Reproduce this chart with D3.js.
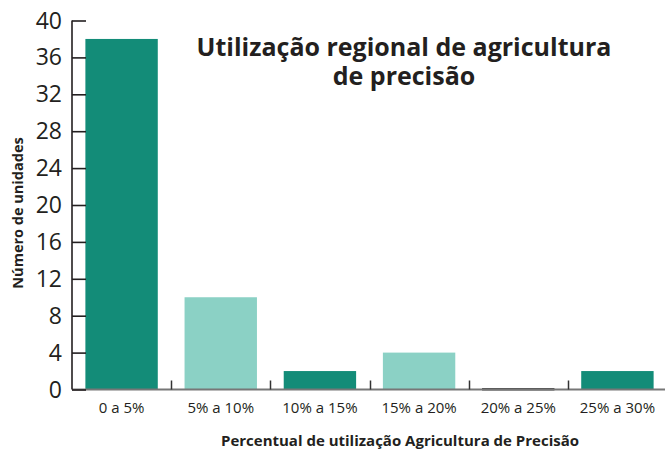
<!DOCTYPE html>
<html>
<head>
<meta charset="utf-8">
<script src="https://cdn.jsdelivr.net/npm/d3@7/dist/d3.min.js"></script>
<style>
  html, body { margin: 0; padding: 0; background: #fff; }
  svg { display: block; }
  text { font-family: "Open Sans", "DejaVu Sans", sans-serif; fill: #231f20; }
</style>
</head>
<body>
<svg id="chart" width="665" height="450"></svg>
<script>
const categories = ["0 a 5%", "5% a 10%", "10% a 15%", "15% a 20%", "20% a 25%", "25% a 30%"];
const values = [38, 10, 2, 4, 0, 2];
const barColors = ["#138c78", "#8bd1c5", "#138c78", "#8bd1c5", "#444444", "#138c78"];
const yTicks = [0, 4, 8, 12, 16, 20, 24, 28, 32, 36, 40];
const titleLines = ["Utilização regional de agricultura", "de precisão"];
const xTitle = "Percentual de utilização Agricultura de Precisão";
const yTitle = "Número de unidades";

const svg = d3.select("#chart");
const mLeft = 72, mRight = 667, mTop = 20.5, mBottom = 389.5;

const x = d3.scaleBand().domain(categories).range([mLeft, mRight]).paddingInner(0.27).paddingOuter(0.135);
const y = d3.scaleLinear().domain([0, 40]).range([mBottom, mTop]);

// bars
svg.append("g").selectAll("rect").data(values).join("rect")
  .attr("x", (d, i) => x(categories[i]))
  .attr("width", x.bandwidth())
  .attr("y", d => d === 0 ? y(0) - 1.5 : y(d))
  .attr("height", d => d === 0 ? 2.5 : y(0) - y(d))
  .attr("fill", (d, i) => barColors[i]);

// x axis line
svg.append("line")
  .attr("x1", mLeft).attr("x2", mRight)
  .attr("y1", mBottom).attr("y2", mBottom)
  .attr("stroke", "#777").attr("stroke-width", 2);

// x separators between categories
const step = x.step();
svg.append("g").selectAll("line").data(categories.slice(1)).join("line")
  .attr("x1", d => Math.round(x(d) - (step - x.bandwidth()) / 2) + 0.5)
  .attr("x2", d => Math.round(x(d) - (step - x.bandwidth()) / 2) + 0.5)
  .attr("y1", mBottom - 9).attr("y2", mBottom)
  .attr("stroke", "#333").attr("stroke-width", 1.5);

// x labels
svg.append("g").selectAll("text").data(categories).join("text")
  .attr("x", d => x(d) + x.bandwidth() / 2)
  .attr("y", 413)
  .attr("text-anchor", "middle")
  .attr("font-size", 15)
  .text(d => d);

// y axis
const yAxis = d3.axisRight(y).tickValues(yTicks).tickSize(14).tickFormat("");
const yg = svg.append("g").attr("transform", `translate(${mLeft},0)`).call(yAxis);
yg.select(".domain").attr("stroke", "#231f20").attr("stroke-width", 1.6).attr("d", `M0,${mTop}V${mBottom}`);
yg.selectAll(".tick line").attr("stroke", "#231f20").attr("stroke-width", 1.6);

svg.append("g").selectAll("text").data(yTicks).join("text")
  .attr("x", 62)
  .attr("y", d => y(d) + 8)
  .attr("text-anchor", "end")
  .attr("font-size", 23)
  .text(d => d);

// title (single text element, two lines)
const title = svg.append("text")
  .attr("text-anchor", "middle")
  .attr("font-size", 25)
  .attr("font-weight", "bold");
title.selectAll("tspan").data(titleLines).join("tspan")
  .attr("x", 404)
  .attr("y", (d, i) => 56 + i * 29)
  .text(d => d);

// axis titles
svg.append("text")
  .attr("x", 400).attr("y", 446)
  .attr("text-anchor", "middle")
  .attr("font-size", 15)
  .attr("font-weight", "bold")
  .text(xTitle);

svg.append("text")
  .attr("transform", "translate(23,213) rotate(-90)")
  .attr("text-anchor", "middle")
  .attr("font-size", 14.5)
  .attr("font-weight", "bold")
  .text(yTitle);
</script>
</body>
</html>
